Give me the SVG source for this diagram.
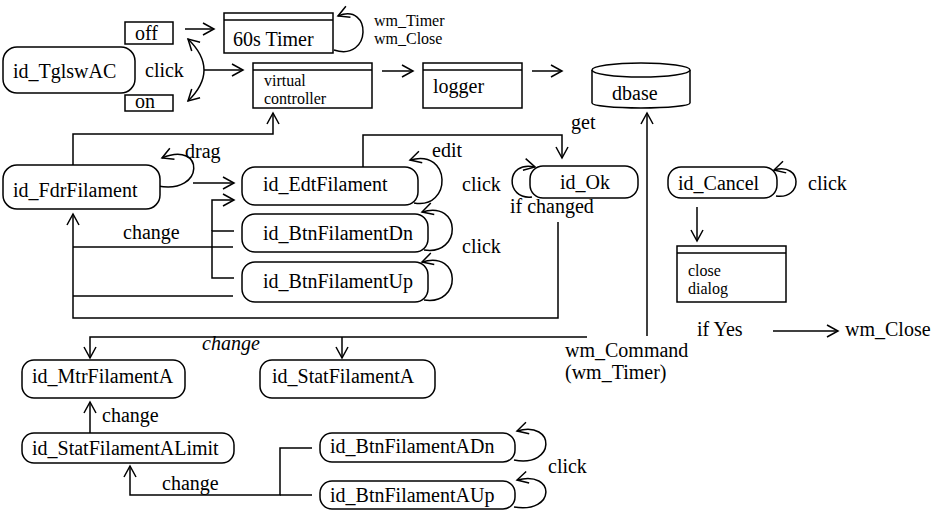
<svg xmlns="http://www.w3.org/2000/svg" width="944" height="510" viewBox="0 0 944 510" font-family="Liberation Serif" font-size="20">
<style>
text{fill:#000;font-family:"Liberation Serif"}
.it{font-style:italic}
.sm{font-size:16px}
.b{fill:#fff;stroke:#000;stroke-width:1.5}
.l{fill:none;stroke:#000;stroke-width:1.5}
.a{fill:none;stroke:#000;stroke-width:1.5;marker-end:url(#ah)}
</style>
<defs>
<marker id="ah" markerUnits="userSpaceOnUse" markerWidth="14" markerHeight="14" viewBox="0 0 14 14" refX="12" refY="7" orient="auto-start-reverse" overflow="visible">
<path d="M1,1 L12,7 L1,13" fill="none" stroke="#000" stroke-width="1.5"/>
</marker>
</defs>
<rect width="944" height="510" fill="#fff"/>

<g id="connectors">
<line class="a" x1="185" y1="29" x2="214" y2="29"/>
<path class="a" d="M188,39 Q220,70 188,101" style="marker-start:url(#ah)"/>
<line class="a" x1="204" y1="70" x2="243" y2="70"/>
<line class="a" x1="382" y1="71" x2="413" y2="71"/>
<line class="a" x1="532" y1="71" x2="562" y2="71"/>
<path class="a" d="M73,165 V134 H273 V113"/>
<path class="a" d="M334,50 C372,62 372,2 338,16"/>
<path class="a" d="M158,186 C205,195 205,140 162,158"/>
<line class="a" x1="193" y1="183" x2="234" y2="183"/>
<path class="l" d="M234,231 H212 V278 H234"/>
<path class="a" d="M212,231 V200 H234"/>
<path class="a" d="M414,203 C452,210 452,148 410,160"/>
<path class="a" d="M424,250 C462,256 462,200 422,212"/>
<path class="a" d="M424,300 C462,306 462,250 422,262"/>
<path class="a" d="M363,167 V135 H562 V158"/>
<path class="a" d="M532,197 C505,200 505,160 535,167"/>
<line class="l" x1="233" y1="247" x2="73" y2="247"/>
<line class="l" x1="233" y1="296" x2="73" y2="296"/>
<path class="a" d="M558,222 V318 H73 V214"/>
<line class="a" x1="647" y1="336" x2="647" y2="113"/>
<path class="a" d="M776,196 C803,200 803,162 774,170"/>
<line class="a" x1="697" y1="207" x2="697" y2="241"/>
<line class="a" x1="773" y1="331" x2="838" y2="331"/>
<path class="a" d="M587,337 H90 V358"/>
<line class="a" x1="342" y1="337" x2="342" y2="358"/>
<line class="a" x1="90" y1="433" x2="90" y2="402"/>
<path class="a" d="M312,448 H280 V495 H130 V466"/>
<line class="l" x1="280" y1="495" x2="312" y2="495"/>
<path class="a" d="M514,460 C556,468 556,420 517,431"/>
<path class="a" d="M514,507 C556,514 556,470 517,480"/>
</g>

<g id="off"><rect class="b" x="125" y="22" width="48" height="22"/><text x="135" y="40">off</text></g>
<g id="on"><rect class="b" x="125" y="95" width="48" height="16"/><text x="135" y="108">on</text></g>
<g id="id_TglswAC"><rect class="b" x="3" y="47" width="132" height="46" rx="14"/><text x="13" y="78">id_TglswAC</text></g>
<g id="timer"><rect class="b" x="224" y="13" width="109" height="40"/><line class="l" x1="224" y1="20" x2="333" y2="20"/><text x="233" y="46">60s Timer</text></g>
<g id="vcontroller"><rect class="b" x="253" y="63" width="119" height="45"/><line class="l" x1="253" y1="70" x2="372" y2="70"/><text class="sm" x="264" y="86">virtual</text><text class="sm" x="264" y="104">controller</text></g>
<g id="logger"><rect class="b" x="423" y="63" width="99" height="45"/><line class="l" x1="423" y1="70" x2="522" y2="70"/><text x="433" y="93">logger</text></g>
<g id="dbase"><path class="b" d="M592,70 V103 A49,5 0 0 0 690,103 V70"/><ellipse class="b" cx="641" cy="70" rx="49" ry="7"/><text x="612" y="100">dbase</text></g>
<g id="id_FdrFilament"><rect class="b" x="3" y="165" width="157" height="44" rx="14"/><text x="13" y="197">id_FdrFilament</text></g>
<g id="id_EdtFilament"><rect class="b" x="242" y="167" width="176" height="38" rx="13"/><text x="263" y="191">id_EdtFilament</text></g>
<g id="id_BtnFilamentDn"><rect class="b" x="242" y="214" width="186" height="38" rx="13"/><text x="263" y="240">id_BtnFilamentDn</text></g>
<g id="id_BtnFilamentUp"><rect class="b" x="242" y="262" width="186" height="40" rx="13"/><text x="263" y="288">id_BtnFilamentUp</text></g>
<g id="id_Ok"><rect class="b" x="530" y="166" width="108" height="32" rx="13"/><text x="560" y="189">id_Ok</text></g>
<g id="id_Cancel"><rect class="b" x="668" y="167" width="109" height="31" rx="13"/><text x="678" y="190">id_Cancel</text></g>
<g id="closedialog"><rect class="b" x="677" y="246" width="109" height="56"/><line class="l" x1="677" y1="253" x2="786" y2="253"/><text class="sm" x="688" y="276">close</text><text class="sm" x="688" y="294">dialog</text></g>
<g id="id_MtrFilamentA"><rect class="b" x="22" y="360" width="163" height="38" rx="12"/><text x="32" y="383">id_MtrFilamentA</text></g>
<g id="id_StatFilamentA"><rect class="b" x="260" y="360" width="175" height="38" rx="12"/><text x="272" y="383">id_StatFilamentA</text></g>
<g id="id_StatFilamentALimit"><rect class="b" x="22" y="433" width="212" height="30" rx="12"/><text x="32" y="455">id_StatFilamentALimit</text></g>
<g id="id_BtnFilamentADn"><rect class="b" x="320" y="433" width="195" height="29" rx="12"/><text x="330" y="453">id_BtnFilamentADn</text></g>
<g id="id_BtnFilamentAUp"><rect class="b" x="320" y="481" width="195" height="28" rx="12"/><text x="330" y="502">id_BtnFilamentAUp</text></g>

<g id="labels">
<text x="145" y="77">click</text>
<text class="sm" x="374" y="26">wm_Timer</text>
<text class="sm" x="374" y="44">wm_Close</text>
<text x="185" y="158">drag</text>
<text x="432" y="157">edit</text>
<text x="571" y="129">get</text>
<text x="462" y="191">click</text>
<text x="510" y="213">if changed</text>
<text x="462" y="253">click</text>
<text x="808" y="190">click</text>
<text x="123" y="239">change</text>
<text x="697" y="336">if Yes</text>
<text x="845" y="336">wm_Close</text>
<text class="it" x="202" y="350">change</text>
<text x="565" y="357">wm_Command</text>
<text x="565" y="379">(wm_Timer)</text>
<text x="102" y="422">change</text>
<text x="162" y="490">change</text>
<text x="548" y="473">click</text>
</g>
</svg>
